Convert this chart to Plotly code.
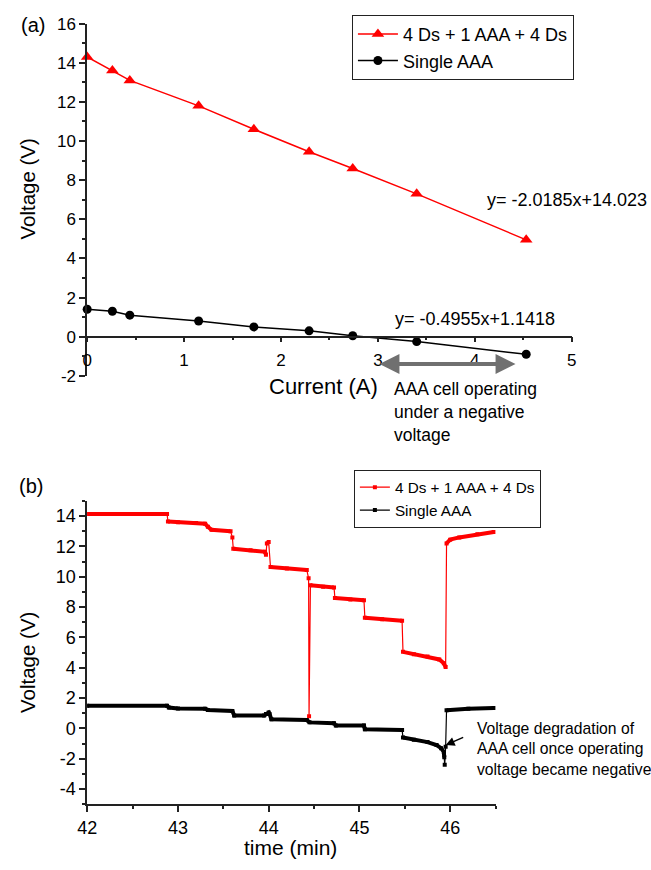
import plotly.graph_objects as go

# ---------------- data: panel (a) ----------------
current_a = [0.0, 0.26, 0.44, 1.15, 1.72, 2.29, 2.74, 3.40, 4.53]
v_stack = [14.3, 13.6, 13.1, 11.8, 10.6, 9.45, 8.6, 7.3, 4.95]
v_single = [1.4, 1.3, 1.1, 0.8, 0.5, 0.3, 0.05, -0.25, -0.9]

a_xticks = [0, 1, 2, 3, 4, 5]
a_yticks = [-2, 0, 2, 4, 6, 8, 10, 12, 14, 16]

# ---------------- data: panel (b) ----------------
red_t = [42.00, 42.88, 42.89, 43.00, 43.20, 43.30, 43.33, 43.37, 43.58, 43.60, 43.61, 43.80,
         43.96, 43.97, 43.98, 44.00, 44.02, 44.20, 44.42, 44.44, 44.445, 44.46, 44.60, 44.72,
         44.73, 44.90, 45.05, 45.06, 45.25, 45.47, 45.48, 45.60, 45.75, 45.88, 45.93, 45.95,
         45.96, 46.00, 46.10, 46.30, 46.48]
red_v = [14.15, 14.15, 13.65, 13.6, 13.55, 13.5, 13.3, 13.1, 13.0, 12.6, 11.85, 11.75,
         11.65, 11.45, 12.2, 12.3, 10.65, 10.55, 10.45, 9.9, 0.8, 9.45, 9.35, 9.3,
         8.6, 8.5, 8.45, 7.3, 7.2, 7.1, 5.05, 4.9, 4.75, 4.55, 4.3, 4.05,
         12.2, 12.45, 12.6, 12.8, 12.95]

blk_t = [42.00, 42.88, 42.90, 43.00, 43.30, 43.33, 43.60, 43.62, 43.95, 43.97, 44.00, 44.01,
         44.03, 44.42, 44.45, 44.72, 44.74, 45.05, 45.06, 45.47, 45.48, 45.60, 45.75, 45.85,
         45.90, 45.93, 45.935, 45.94, 45.95, 45.96, 46.20, 46.48]
blk_v = [1.5, 1.5, 1.38, 1.32, 1.3, 1.22, 1.15, 0.85, 0.85, 0.95, 1.05, 0.95,
         0.6, 0.55, 0.4, 0.35, 0.2, 0.2, -0.05, -0.1, -0.6, -0.75, -0.9, -1.1,
         -1.3, -1.55, -1.9, -2.4, -1.2, 1.2, 1.3, 1.35]

b_yticks = [-4, -2, 0, 2, 4, 6, 8, 10, 12, 14]
b_xticks = [42, 43, 44, 45, 46]

W, H = 651, 870
FONT = "Liberation Sans, Arial, sans-serif"
RED = "#ff0000"


def px(x):
    return x / W


def py(y):
    return (H - y) / H


def flats(t, v, thr=0.35):
    """Break the series at large jumps so only near-level stretches are drawn thick."""
    xs, ys = [t[0]], [v[0]]
    for i in range(1, len(t)):
        if abs(v[i] - v[i - 1]) > thr:
            xs.append(None)
            ys.append(None)
        xs.append(t[i])
        ys.append(v[i])
    return xs, ys


fig = go.Figure()

# panel (a)
fig.add_trace(go.Scatter(x=current_a, y=v_stack, mode="lines+markers", name="4 Ds + 1 AAA + 4 Ds",
                         line=dict(color=RED, width=1.5),
                         marker=dict(symbol="triangle-up", size=11, color=RED),
                         cliponaxis=False, xaxis="x", yaxis="y", legend="legend"))
fig.add_trace(go.Scatter(x=current_a, y=v_single, mode="lines+markers", name="Single AAA",
                         line=dict(color="black", width=1.5),
                         marker=dict(symbol="circle", size=9, color="black"),
                         cliponaxis=False, xaxis="x", yaxis="y", legend="legend"))

# panel (b)
rx, ry = flats(red_t, red_v)
bx, by = flats(blk_t, blk_v)
fig.add_trace(go.Scatter(x=rx, y=ry, mode="lines", line=dict(color=RED, width=4),
                         showlegend=False, xaxis="x2", yaxis="y2", hoverinfo="skip"))
fig.add_trace(go.Scatter(x=bx, y=by, mode="lines", line=dict(color="black", width=4),
                         showlegend=False, xaxis="x2", yaxis="y2", hoverinfo="skip"))
fig.add_trace(go.Scatter(x=red_t, y=red_v, mode="lines+markers", name="4 Ds + 1 AAA + 4 Ds",
                         line=dict(color=RED, width=1.2),
                         marker=dict(symbol="square", size=4, color=RED),
                         xaxis="x2", yaxis="y2", legend="legend2"))
fig.add_trace(go.Scatter(x=blk_t, y=blk_v, mode="lines+markers", name="Single AAA",
                         line=dict(color="black", width=1.2),
                         marker=dict(symbol="square", size=4, color="black"),
                         xaxis="x2", yaxis="y2", legend="legend2"))

axis_common = dict(showline=True, linecolor="#222", linewidth=1.5, showgrid=False,
                   zeroline=False, ticks="outside", tickcolor="#222", tickwidth=1.5,
                   tickfont=dict(family=FONT, size=17, color="black"))

a_top, a_bot = 15, 375
b_top, b_bot = 503, 813
y0_px = a_top + (16 - 0) / 18 * (a_bot - a_top)

fig.update_layout(
    width=W, height=H, margin=dict(l=0, r=0, t=0, b=0),
    paper_bgcolor="white", plot_bgcolor="white",
    font=dict(family=FONT, color="black"),
    xaxis=dict(axis_common, domain=[px(79), px(575)], range=[0, 5], anchor="free",
               position=py(y0_px), tickvals=a_xticks, ticktext=[str(v) for v in a_xticks],
               ticklen=5, minor=dict(ticks="outside", dtick=0.5, ticklen=3, tickcolor="#222"),
               ticklabelstandoff=3),
    yaxis=dict(axis_common, domain=[py(a_bot), py(a_top)], range=[-2, 16], anchor="x",
               tickvals=a_yticks, ticktext=[str(v) for v in a_yticks], ticklen=6,
               minor=dict(ticks="outside", dtick=1, ticklen=3, tickcolor="#222")),
    xaxis2=dict(axis_common, domain=[px(79), px(497)], range=[42, 46.5], anchor="y2",
                tickvals=b_xticks, ticktext=[str(v) for v in b_xticks], ticklen=6,
                tickfont=dict(family=FONT, size=18, color="black"),
                minor=dict(ticks="outside", dtick=0.5, ticklen=3, tickcolor="#222")),
    yaxis2=dict(axis_common, domain=[py(b_bot), py(b_top)], range=[-5, 15], anchor="x2",
                tickvals=b_yticks, ticktext=[str(v) for v in b_yticks], ticklen=6,
                tickfont=dict(family=FONT, size=18, color="black"),
                minor=dict(ticks="outside", dtick=1, ticklen=3, tickcolor="#222")),
    legend=dict(x=px(350), y=py(6), xanchor="left", yanchor="top",
                bordercolor="#222", borderwidth=1, bgcolor="white",
                font=dict(family=FONT, size=18, color="black"), tracegroupgap=0,
                itemwidth=40),
    legend2=dict(x=px(352), y=py(471), xanchor="left", yanchor="top",
                 bordercolor="#222", borderwidth=1, bgcolor="white",
                 font=dict(family=FONT, size=15.3, color="black"), tracegroupgap=0,
                 itemwidth=30),
)

ann = []
def txt(text, x, y, size, xanchor="center", yanchor="middle", angle=0, align="center"):
    ann.append(dict(text=text, x=px(x), y=py(y), xref="paper", yref="paper", showarrow=False,
                    xanchor=xanchor, yanchor=yanchor, textangle=angle, align=align,
                    font=dict(family=FONT, size=size, color="black")))

txt("(a)", 24, 16, 20)
txt("(b)", 22, 488, 20)
txt("Voltage (V)", 18, 184, 20.5, angle=-90)
txt("Voltage (V)", 18, 668, 20.5, angle=-90)
txt("Current (A)", 321, 386, 22)
txt("time (min)", 287, 857, 21)
txt("y= -2.0185x+14.023", 486, 195, 18, xanchor="left")
txt("y= -0.4955x+1.1418", 392, 317, 18, xanchor="left")
txt("AAA cell operating<br>under a negative<br>voltage", 391, 412, 17.5, xanchor="left", align="left")
txt("Voltage degradation of<br>AAA cell once operating<br>voltage became negative", 476, 757, 15.7,
    xanchor="left", align="left")

# gray double arrow (panel a)
ann.append(dict(x=4.42, y=-1.4, ax=3.0, ay=-1.4, xref="x", yref="y", axref="x", ayref="y",
                text="", showarrow=True, arrowside="end+start", arrowhead=2, startarrowhead=2,
                arrowsize=1.0, startarrowsize=1.0, arrowwidth=4, arrowcolor="#707070",
                standoff=0, startstandoff=0))
# black arrow (panel b)
ann.append(dict(x=45.95, y=-1.1, ax=46.16, ay=-0.55, xref="x2", yref="y2", axref="x2", ayref="y2",
                text="", showarrow=True, arrowhead=2, arrowsize=1.2, arrowwidth=1.5,
                arrowcolor="black", standoff=0))

fig.update_layout(annotations=ann)
fig.write_html("out.html")
